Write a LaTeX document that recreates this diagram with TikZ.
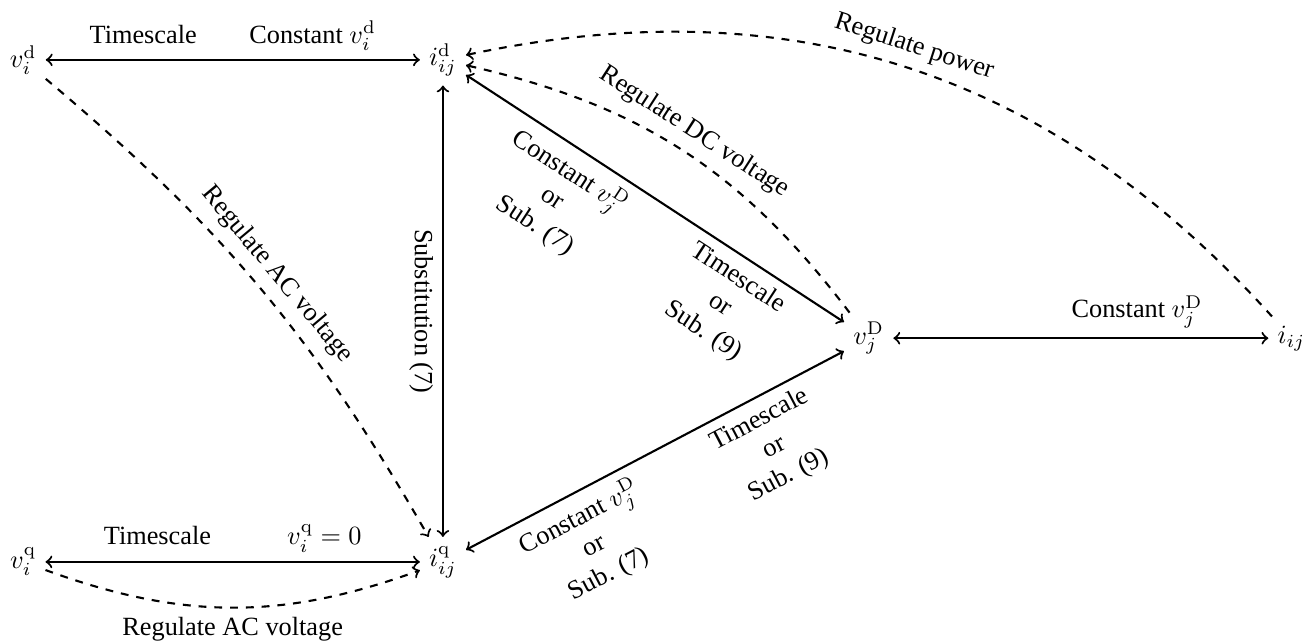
\documentclass[tikz,border=0pt]{standalone}
\usepackage[no-math]{fontspec}
\setmainfont{Liberation Serif}
\usetikzlibrary{positioning}
\tikzset{
    qty/.style={inner sep=3.33pt},
    link/.style={<->, thick},
    ctrl/.style={->, thick, dashed},
    note/.style={align=center, sloped}
}

\begin{document}
\begin{tikzpicture}[on grid]
    \useasboundingbox (0,0) rectangle (17.535,-8.594);

    \node[qty] (vd) at (0.31,-0.80) {$v_i^{\mathrm{d}}$};
    \node[qty, right=5.61cm of vd] (id) {$i_{ij}^{\mathrm{d}}$};
    \node[qty, below=6.71cm of vd] (vq) {$v_i^{\mathrm{q}}$};
    \node[qty, below=6.71cm of id] (iq) {$i_{ij}^{\mathrm{q}}$};
    \node[qty, below right=3.72cm and 5.69cm of id] (vD) {$v_j^{\mathrm{D}}$};
    \node[qty, right=5.65cm of vD] (iij) {$i_{ij}$};

    % solid links between the variables
    \draw[link] (vd) -- node[above] {Timescale\hspace{2em}Constant $v_i^{\mathrm{d}}$} (id);
    \draw[link] (vq) -- node[above] {Timescale\hspace{2.9em}$v_i^{\mathrm{q}} = 0$} (iq);
    \draw[link] (id) -- node[note, below] {Substitution (7)} (iq);
    \draw[link] (id) --
        node[note, below, pos=0.31] {Constant $v_j^{\mathrm{D}}$\\or\\Sub. (7)}
        node[note, below, pos=0.75] {Timescale\\or\\Sub. (9)} (vD);
    \draw[link] (iq) --
        node[note, below, pos=0.27] {Constant $v_j^{\mathrm{D}}$\\or\\Sub. (7)}
        node[note, below, pos=0.75] {Timescale\\or\\Sub. (9)} (vD);
    \draw[link] (vD) -- node[above, pos=0.65] {Constant $v_j^{\mathrm{D}}$} (iij);

    % dashed control loops
    \draw[ctrl] (vd) to[bend left=10] node[note, above] {Regulate AC voltage} (iq);
    \draw[ctrl] (vq) to[bend right=20] node[below] {Regulate AC voltage} (iq);
    \draw[ctrl] (vD) to[bend right=20] node[note, above] {Regulate DC voltage} (id);
    \draw[ctrl] (iij) to[bend right=30] node[note, above] {Regulate power} (id);
\end{tikzpicture}
\end{document}
